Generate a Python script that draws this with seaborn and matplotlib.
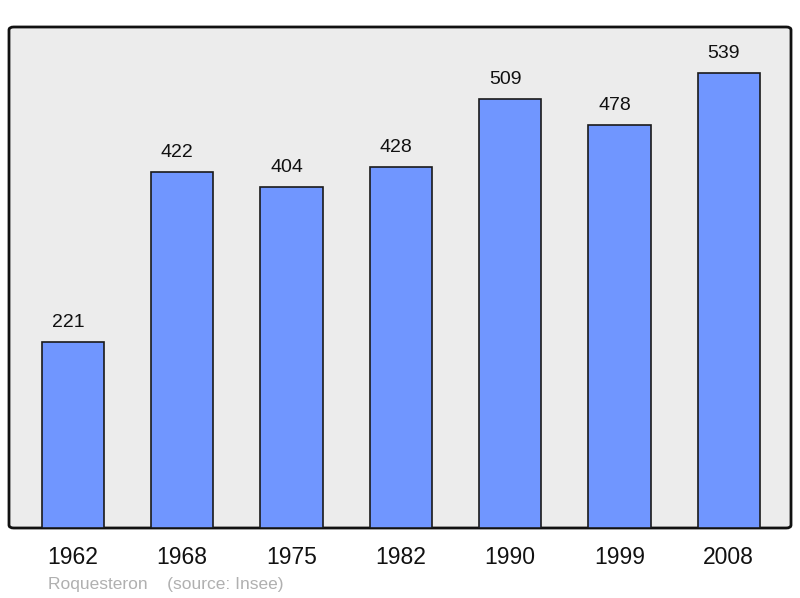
import pandas as pd
import matplotlib.pyplot as plt
import seaborn as sns
from matplotlib.patches import FancyBboxPatch

# === Data ===
years = ["1962", "1968", "1975", "1982", "1990", "1999", "2008"]
population = [221, 422, 404, 428, 509, 478, 539]
town = "Roquesteron"
source = "(source: Insee)"

df = pd.DataFrame({"year": years, "population": population})

sns.set_theme(style="white")
plt.rcParams["font.family"] = ["Liberation Sans", "DejaVu Sans"]

fig = plt.figure(figsize=(8, 5.98), dpi=100)
ax = fig.add_axes([9 / 800, 1 - 528 / 598, 782 / 800, 501 / 598])
ax.set_facecolor("none")

# rounded frame behind the bars
frame = FancyBboxPatch((0, 0), 1, 1, boxstyle="round,pad=0,rounding_size=0.006",
                       transform=ax.transAxes, facecolor="#ececec",
                       edgecolor="#111111", linewidth=2, zorder=0, clip_on=False)
ax.add_patch(frame)

sns.barplot(data=df, x="year", y="population", color="#7096ff", saturation=1,
            width=0.57, edgecolor="#1a1a1a", linewidth=1.2, ax=ax, zorder=2)

# value labels, slightly left of bar centre as in the original
for i, v in enumerate(population):
    ax.annotate(str(v), (i, v), xytext=(-3.6, 10.8), textcoords="offset points",
                ha="center", va="baseline", fontsize=14, color="#111111")

ax.set_xlim(-0.585, 6.57)
ax.set_ylim(0, 594)
ax.set_xlabel("")
ax.set_ylabel("")
ax.set_yticks([])
ax.tick_params(axis="x", length=0, labelsize=16.5, pad=13, colors="#111111")
for s in ax.spines.values():
    s.set_visible(False)

fig.text(48 / 800, 1 - 584 / 598, town + "    " + source, fontsize=12.5,
         color="#b0b0b0", va="center", ha="left")

fig.savefig("out.png", dpi=100)
